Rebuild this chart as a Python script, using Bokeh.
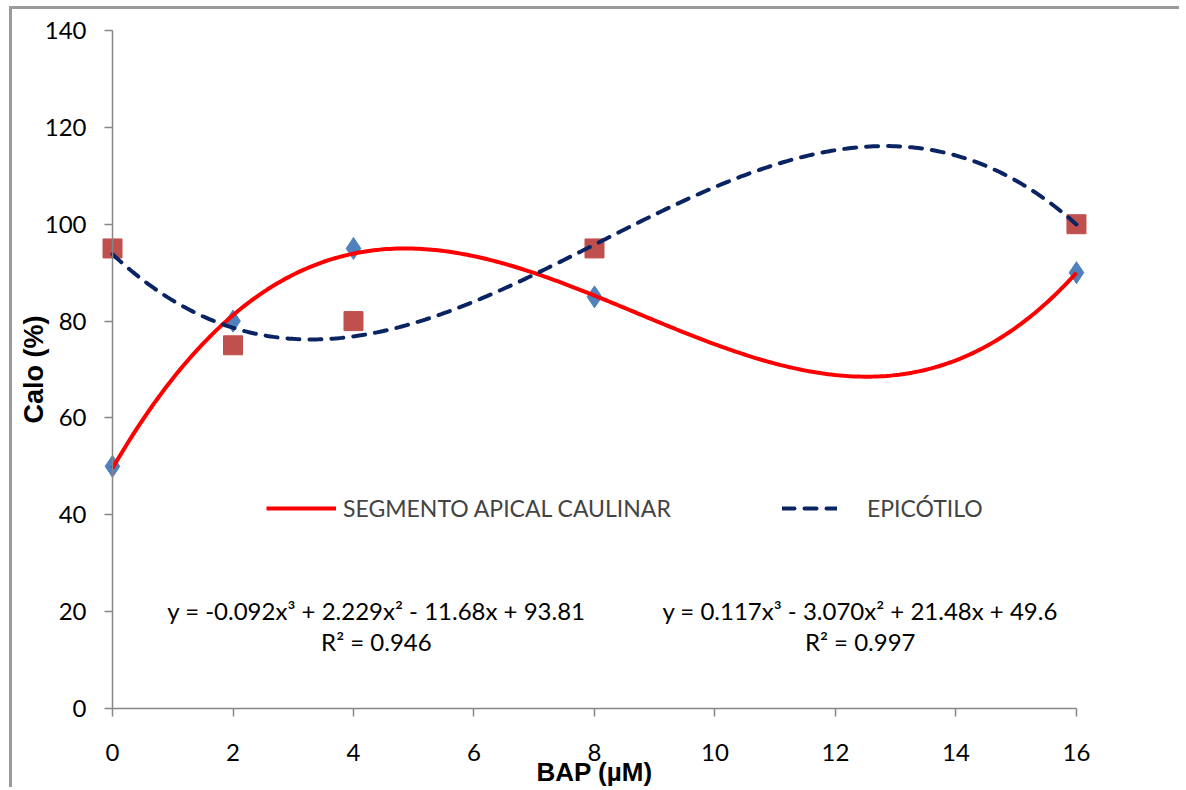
import numpy as np
from bokeh.plotting import figure
from bokeh.models import Legend, LegendItem, Label, FixedTicker, Range1d
from bokeh.embed import file_html
from bokeh.resources import INLINE

# ---- data ----
bap = [0, 2, 4, 8, 16]
diamond_vals = [50, 80, 95, 85, 90]      # blue diamonds (fit: red solid line)
square_vals = [95, 75, 80, 95, 100]      # red squares (fit: navy dashed line)
x_ticks = [0, 2, 4, 6, 8, 10, 12, 14, 16]
y_ticks = [0, 20, 40, 60, 80, 100, 120, 140]
eq_epicotilo = "y = -0.092x³ + 2.229x² - 11.68x + 93.81"
r2_epicotilo = "R² = 0.946"
eq_apical = "y = 0.117x³ - 3.070x² + 21.48x + 49.6"
r2_apical = "R² = 0.997"
legend_apical = "SEGMENTO APICAL CAULINAR"
legend_epicotilo = "EPICÓTILO"
x_title = "BAP (µM)"
y_title = "Calo (%)"

# cubic trendlines (least squares, as the chart's polynomial trendlines)
coef_apical = np.polyfit(bap, diamond_vals, 3)
coef_epicotilo = np.polyfit(bap, square_vals, 3)
xs = np.linspace(0, 16, 300)
y_apical = np.polyval(coef_apical, xs)
y_epi = np.polyval(coef_epicotilo, xs)

FONT = "Lato"
AX = "#868686"

# frame covers the whole canvas; axes are pinned at x=0 / y=0 with bounds
p = figure(width=1170, height=781, output_backend="svg", toolbar_location=None,
           x_range=Range1d(-1.66, 17.76), y_range=Range1d(-16.93, 144.34),
           min_border=0, min_border_left=0, min_border_right=0,
           min_border_top=0, min_border_bottom=0)
p.styles = {"border-top": "3px solid #9a9a9a", "border-left": "3px solid #9a9a9a",
            "margin-left": "9px", "margin-top": "6px"}
p.outline_line_color = None
p.xgrid.visible = False
p.ygrid.visible = False
p.background_fill_color = "white"

p.xaxis.ticker = FixedTicker(ticks=x_ticks)
p.yaxis.ticker = FixedTicker(ticks=y_ticks)
p.xaxis.bounds = (0, 16)
p.yaxis.bounds = (0, 140)
p.xaxis.fixed_location = 0
p.yaxis.fixed_location = 0
for ax in (p.xaxis, p.yaxis):
    ax.axis_line_color = AX
    ax.axis_line_width = 1.5
    ax.major_tick_line_color = AX
    ax.major_tick_line_width = 1.5
    ax.major_tick_in = 0
    ax.major_tick_out = 8
    ax.minor_tick_line_color = None
    ax.major_label_text_font = FONT
    ax.major_label_text_font_size = "24px"
    ax.major_label_text_color = "black"
    ax.axis_label_text_font = "Liberation Sans"
    ax.axis_label_text_font_style = "bold"
    ax.axis_label_text_color = "black"
p.yaxis.axis_label_text_font_size = "27px"
p.xaxis.axis_label_text_font_size = "26px"
p.xaxis.major_label_standoff = 27
p.yaxis.major_label_standoff = 18
p.xaxis.axis_label = x_title
p.yaxis.axis_label = y_title
p.xaxis.axis_label_standoff = -7
p.yaxis.axis_label_standoff = -7

p.scatter(bap, diamond_vals, marker="diamond", size=22, fill_color="#4F81BD", line_color="#4F81BD")
p.scatter(bap, square_vals, marker="square", size=19, fill_color="#C0504D", line_color="#C0504D")

r_red = p.line(xs, y_apical, line_color="#FF0000", line_width=4)
r_navy = p.line(xs, y_epi, line_color="#0A2463", line_width=4, line_dash="12 10", line_cap="round")

leg1 = Legend(items=[LegendItem(label=legend_apical, renderers=[r_red])],
              location=(254, 268), glyph_width=70, glyph_height=20, label_standoff=7,
              padding=0, margin=0, border_line_alpha=0, background_fill_alpha=0,
              label_text_font=FONT, label_text_font_size="23px")
leg2 = Legend(items=[LegendItem(label=legend_epicotilo, renderers=[r_navy])],
              location=(770, 268), glyph_width=55, glyph_height=20, label_standoff=30,
              padding=0, margin=0, border_line_alpha=0, background_fill_alpha=0,
              label_text_font=FONT, label_text_font_size="23px")
p.add_layout(leg1)
p.add_layout(leg2)

for x, y, t in [(4.38, 20.3, eq_epicotilo), (4.38, 13.9, r2_epicotilo),
                (12.41, 20.3, eq_apical), (12.41, 13.9, r2_apical)]:
    p.add_layout(Label(x=x, y=y, text=t, text_align="center", text_baseline="middle",
                       text_font=FONT, text_font_size="24px", text_color="black"))

open("out.html", "w").write(file_html(p, INLINE))
